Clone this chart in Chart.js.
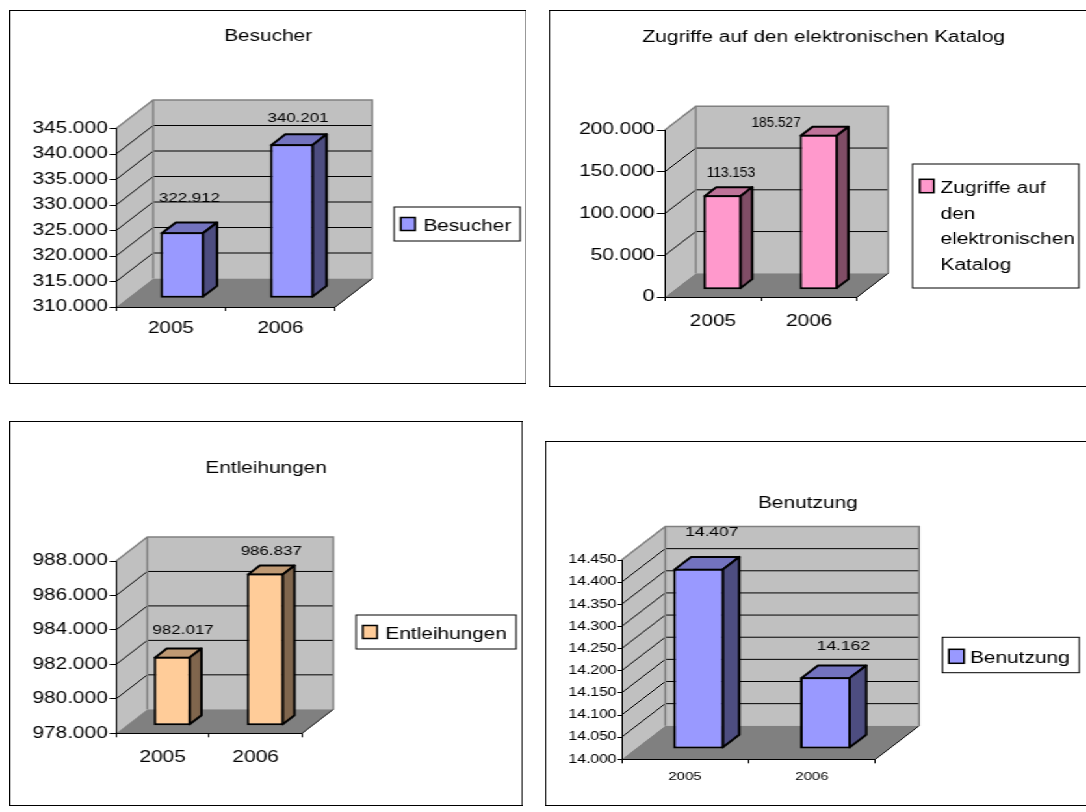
<!DOCTYPE html>
<html>
<head>
<meta charset="utf-8">
<script src="https://cdn.jsdelivr.net/npm/chart.js@4.4.1/dist/chart.umd.min.js"></script>
<style>
  html, body { margin: 0; padding: 0; background: #fff; overflow: hidden; width: 1086px; height: 812px; }
  #sheet { position: absolute; left: 0; top: 0; width: 850px; height: 812px; transform: scaleX(1.3); transform-origin: 0 0; }
  .box { position: absolute; }
  .box canvas { display: block; }
</style>
</head>
<body>
<div id="sheet"></div>
<script>
// Horizontal stretch of the whole sheet (charts are laid out narrow, then widened)
const S = 1.3;
const FONT = "'Liberation Sans', Arial, Helvetica, sans-serif";

// ---- data ----
const years = ['2005', '2006'];

const besucherValues = [322912, 340201];
const besucherTicks = [310000, 315000, 320000, 325000, 330000, 335000, 340000, 345000];

const zugriffeValues = [113153, 185527];
const zugriffeTicks = [0, 50000, 100000, 150000, 200000];

const entleihungenValues = [982017, 986837];
const entleihungenTicks = [978000, 980000, 982000, 984000, 986000, 988000];

const benutzungValues = [14407, 14162];
const benutzungTicks = [14000, 14050, 14100, 14150, 14200, 14250, 14300, 14350, 14400, 14450];

// German thousands separator
function fmt(v) {
  return String(v).replace(/\B(?=(\d{3})+(?!\d))/g, '.');
}

function shade(hex, f) {
  const n = parseInt(hex.slice(1), 16);
  const r = Math.round(((n >> 16) & 255) * f), g = Math.round(((n >> 8) & 255) * f), b = Math.round((n & 255) * f);
  return 'rgb(' + r + ',' + g + ',' + b + ')';
}

function poly(ctx, pts, fill, stroke, lw) {
  ctx.beginPath();
  ctx.moveTo(pts[0][0], pts[0][1]);
  for (let i = 1; i < pts.length; i++) ctx.lineTo(pts[i][0], pts[i][1]);
  ctx.closePath();
  if (fill) { ctx.fillStyle = fill; ctx.fill(); }
  if (stroke) { ctx.strokeStyle = stroke; ctx.lineWidth = lw || 1; ctx.stroke(); }
}

// Panel layout: x values in sheet pixels after stretching, y values in pixels
const panels = [
  {
    title: 'Besucher', legendLines: ['Besucher'], name: 'Besucher',
    values: besucherValues, ticks: besucherTicks, color: '#9999FF',
    frame: [9, 10, 527, 384], plot: [116, 128.5, 335, 307], depth: 28.5,
    titleX: 268, titleY: 36.5, textFont: 16, yFont: 16, xFont: 16, labelFont: 13, labelScaleX: 1,
    yTick: 5, yPad: 1.5, xTick: 4, xPad: 8.4,
    legendBox: [394, 207, 520, 241], swatch: [400.7, 217.5, 415, 230.5], legendTextX: 423.3, legendBase: 230.7, legendLineH: 25.8,
    labelShift: [[0, -28], [-1, -20]]
  },
  {
    title: 'Zugriffe auf den elektronischen Katalog', legendLines: ['Zugriffe auf', 'den', 'elektronischen', 'Katalog'],
    name: 'Zugriffe auf den elektronischen Katalog',
    values: zugriffeValues, ticks: zugriffeTicks, color: '#FF99CC',
    frame: [549, 10, 1097, 387], plot: [665, 130, 857, 297], depth: 23.7,
    titleX: 823.5, titleY: 38, textFont: 16, yFont: 16, xFont: 16, labelFont: 14.5, labelScaleX: 0.72,
    yTick: 6, yPad: 2, xTick: 4, xPad: 11.4,
    legendBox: [912, 164, 1078, 288], swatch: [919.3, 179.3, 933.3, 192.7], legendTextX: 940, legendBase: 192.7, legendLineH: 25.8,
    labelShift: [[2.6, -17.5], [-48.4, -7.5]]
  },
  {
    title: 'Entleihungen', legendLines: ['Entleihungen'], name: 'Entleihungen',
    values: entleihungenValues, ticks: entleihungenTicks, color: '#FFCC99',
    frame: [9, 421, 523, 806], plot: [116, 561, 302, 733.3], depth: 24,
    titleX: 266, titleY: 469, textFont: 16, yFont: 16, xFont: 16, labelFont: 13, labelScaleX: 1,
    yTick: 5, yPad: 1.5, xTick: 4, xPad: 11,
    legendBox: [356, 615, 516, 649], swatch: [362.7, 625.5, 377, 638.5], legendTextX: 385.3, legendBase: 638.7, legendLineH: 25.8,
    labelShift: [[4.9, -21.5], [0, -17.5]]
  },
  {
    title: 'Benutzung', legendLines: ['Benutzung'], name: 'Benutzung',
    values: benutzungValues, ticks: benutzungTicks, color: '#9999FF',
    frame: [545, 441, 1097, 806], plot: [621.7, 560, 875, 759.3], depth: 33.5,
    titleX: 807.5, titleY: 504, textFont: 16, yFont: 12, xFont: 11.5, labelFont: 13.4, labelScaleX: 1,
    yTick: 3, yPad: 1, xTick: 4, xPad: 7,
    legendBox: [941.7, 637.3, 1078.3, 672.7], swatch: [948.3, 649.3, 963.3, 663.3], legendTextX: 969.3, legendBase: 663, legendLineH: 25.8,
    labelShift: [[4.9, -30], [9.5, -24.2]]
  }
];

const WALL = '#C0C0C0', FLOOR = '#808080', EDGE = '#808080';
const sheet = document.getElementById('sheet');

function makePanel(p, idx) {
  const [L, T, R, B] = p.frame;
  const W = (R - L) / S, H = B - T;
  const X = xr => (xr - L) / S;
  const Y = yr => yr - T;

  const box = document.createElement('div');
  box.className = 'box';
  box.style.left = (L / S) + 'px';
  box.style.top = T + 'px';
  box.style.width = W + 'px';
  box.style.height = H + 'px';
  const cv = document.createElement('canvas');
  box.appendChild(cv);
  sheet.appendChild(box);

  const yW = X(p.plot[0]) - 4;
  const xH = 40;
  const D = p.depth, o = D * 0.31, t = D * 0.38;

  const cube = {
    id: 'cube' + idx,
    beforeDraw(chart) {
      const ctx = chart.ctx, a = chart.chartArea, ys = chart.scales.y;
      ctx.save();
      // side wall, back wall, floor
      poly(ctx, [[a.left, a.top], [a.left + D, a.top - D], [a.left + D, a.bottom - D], [a.left, a.bottom]], WALL);
      poly(ctx, [[a.left + D, a.top - D], [a.right + D, a.top - D], [a.right + D, a.bottom - D], [a.left + D, a.bottom - D]], WALL);
      poly(ctx, [[a.left, a.bottom], [a.right, a.bottom], [a.right + D, a.bottom - D], [a.left + D, a.bottom - D]], FLOOR);
      // gridlines running along side wall and back wall
      ctx.strokeStyle = '#000';
      ctx.lineWidth = 1;
      p.ticks.slice(1, -1).forEach(v => {
        const y = ys.getPixelForValue(v);
        ctx.beginPath();
        ctx.moveTo(a.left, y);
        ctx.lineTo(a.left + D, y - D);
        ctx.lineTo(a.right + D, y - D);
        ctx.stroke();
      });
      // wall edges
      ctx.strokeStyle = EDGE;
      ctx.lineWidth = 1.5;
      ctx.beginPath();
      ctx.moveTo(a.left, a.top);
      ctx.lineTo(a.left + D, a.top - D);
      ctx.lineTo(a.right + D, a.top - D);
      ctx.lineTo(a.right + D, a.bottom - D);
      ctx.moveTo(a.left + D, a.top - D);
      ctx.lineTo(a.left + D, a.bottom - D);
      ctx.stroke();
      ctx.strokeStyle = '#000';
      ctx.lineWidth = 1;
      ctx.beginPath();
      ctx.moveTo(a.right, a.bottom);
      ctx.lineTo(a.right + D, a.bottom - D);
      ctx.stroke();
      // title
      ctx.fillStyle = '#000';
      ctx.font = p.textFont + 'px ' + FONT;
      ctx.textAlign = 'center';
      ctx.textBaseline = 'middle';
      ctx.fillText(p.title, X(p.titleX), Y(p.titleY));
      ctx.restore();
    },
    beforeDatasetsDraw(chart) {
      const ctx = chart.ctx;
      ctx.save();
      ctx.translate(o, -o);
      const topC = shade(p.color, 0.75), sideC = shade(p.color, 0.5);
      chart.getDatasetMeta(0).data.forEach(bar => {
        const { x, y, base, width } = bar.getProps(['x', 'y', 'base', 'width'], true);
        const l = x - width / 2 + 1, r = x + width / 2 - 1;
        const tp = Math.min(y, base) + 1, bt = Math.max(y, base) - 1;
        ctx.lineJoin = 'round';
        poly(ctx, [[l, tp], [r, tp], [r + t, tp - t], [l + t, tp - t]], topC, '#000', 2);
        poly(ctx, [[r, tp], [r + t, tp - t], [r + t, bt - t], [r, bt]], sideC, '#000', 2);
      });
    },
    afterDatasetsDraw(chart) {
      const ctx = chart.ctx;
      ctx.restore();
      // value labels above each column
      ctx.save();
      ctx.fillStyle = '#000';
      ctx.font = p.labelFont + 'px ' + FONT;
      ctx.textAlign = 'center';
      ctx.textBaseline = 'middle';
      chart.getDatasetMeta(0).data.forEach((bar, i) => {
        const { x, y } = bar.getProps(['x', 'y'], true);
        const cx = x + o + t / 2 + p.labelShift[i][0] / S;
        const cy = y - o - t / 2 + p.labelShift[i][1];
        ctx.save();
        ctx.translate(cx, cy);
        ctx.scale(p.labelScaleX, 1);
        ctx.fillText(fmt(p.values[i]), 0, 0);
        ctx.restore();
      });
      ctx.restore();
    },
    afterDraw(chart) {
      const ctx = chart.ctx;
      ctx.save();
      // legend
      const lb = p.legendBox;
      ctx.fillStyle = '#fff';
      ctx.fillRect(X(lb[0]), Y(lb[1]), X(lb[2]) - X(lb[0]), Y(lb[3]) - Y(lb[1]));
      ctx.strokeStyle = '#000';
      ctx.lineWidth = 1;
      ctx.strokeRect(X(lb[0]), Y(lb[1]), X(lb[2]) - X(lb[0]), Y(lb[3]) - Y(lb[1]));
      const sw = p.swatch;
      ctx.fillStyle = p.color;
      ctx.fillRect(X(sw[0]), Y(sw[1]), X(sw[2]) - X(sw[0]), Y(sw[3]) - Y(sw[1]));
      ctx.lineWidth = 1.5;
      ctx.strokeRect(X(sw[0]), Y(sw[1]), X(sw[2]) - X(sw[0]), Y(sw[3]) - Y(sw[1]));
      ctx.fillStyle = '#000';
      ctx.font = p.textFont + 'px ' + FONT;
      ctx.textAlign = 'left';
      ctx.textBaseline = 'alphabetic';
      p.legendLines.forEach((ln, i) => {
        ctx.fillText(ln, X(p.legendTextX), Y(p.legendBase + i * p.legendLineH));
      });
      // chart frame
      ctx.lineWidth = 1;
      ctx.strokeStyle = '#000';
      ctx.strokeRect(0.5, 0.5, W - 1, H - 1);
      ctx.restore();
    }
  };

  return new Chart(cv, {
    type: 'bar',
    data: {
      labels: years,
      datasets: [{
        label: p.name,
        data: p.values,
        base: p.ticks[0],
        backgroundColor: p.color,
        borderColor: '#000',
        borderWidth: 2,
        borderSkipped: false,
        barPercentage: 0.4,
        categoryPercentage: 1,
        clip: false
      }]
    },
    options: {
      responsive: true,
      maintainAspectRatio: false,
      devicePixelRatio: 1,
      animation: false,
      events: [],
      layout: {
        padding: {
          left: X(p.plot[0]) - yW,
          top: Y(p.plot[1]),
          right: W - X(p.plot[2]),
          bottom: H - Y(p.plot[3]) - xH
        }
      },
      plugins: { legend: { display: false }, title: { display: false }, tooltip: { enabled: false } },
      scales: {
        x: {
          type: 'category',
          offset: true,
          grid: { offset: true, drawOnChartArea: false, drawTicks: true, tickLength: p.xTick, color: '#000', lineWidth: 1 },
          border: { display: true, color: '#000', width: 1 },
          ticks: { color: '#000', font: { family: FONT, size: p.xFont }, padding: p.xPad, maxRotation: 0 },
          afterFit(scale) { scale.height = xH; }
        },
        y: {
          min: p.ticks[0],
          max: p.ticks[p.ticks.length - 1],
          grid: { drawOnChartArea: false, drawTicks: true, tickLength: p.yTick, color: '#000', lineWidth: 1 },
          border: { display: true, color: '#000', width: 1 },
          ticks: { color: '#000', font: { family: FONT, size: p.yFont }, padding: p.yPad, autoSkip: false, callback: v => fmt(v) },
          afterBuildTicks(scale) { scale.ticks = p.ticks.map(v => ({ value: v })); },
          afterFit(scale) { scale.width = yW; }
        }
      }
    },
    plugins: [cube]
  });
}

panels.forEach(makePanel);
</script>
</body>
</html>
